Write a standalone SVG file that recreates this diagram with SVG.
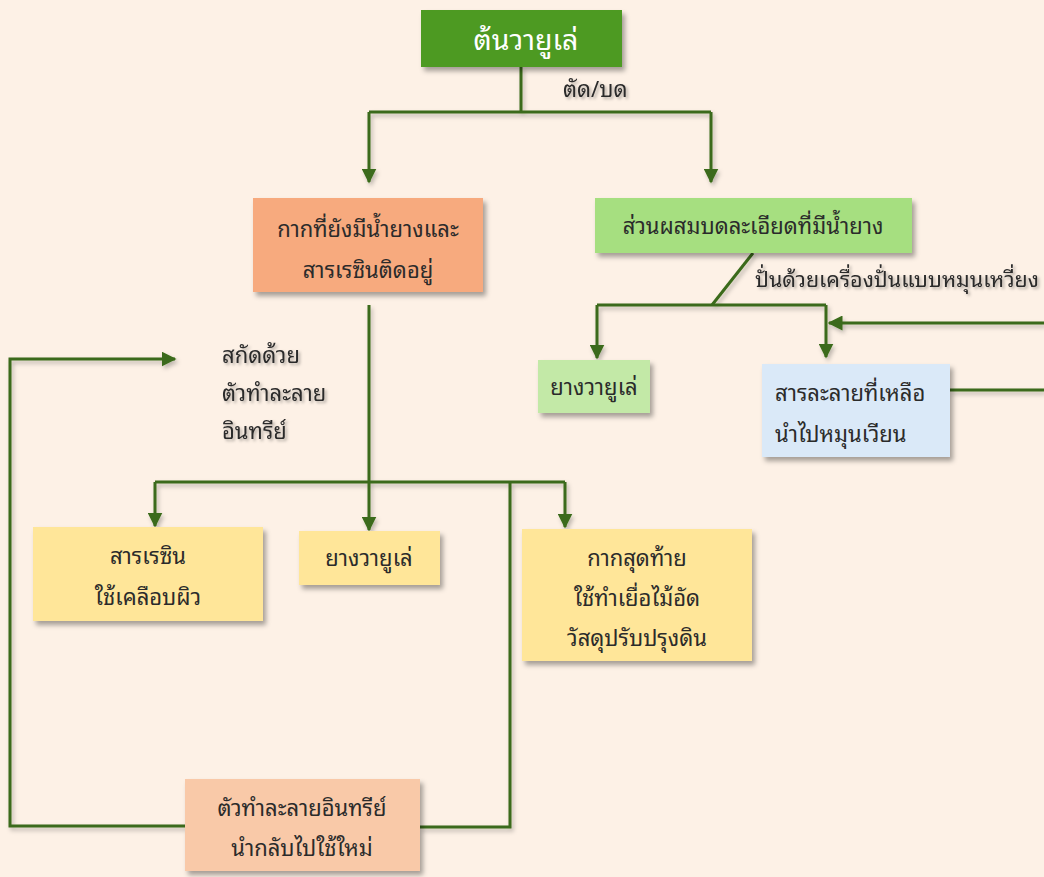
<svg xmlns="http://www.w3.org/2000/svg" width="1044" height="877" viewBox="0 0 1044 877">
<defs>
<filter id="sh" x="-10%" y="-10%" width="130%" height="140%">
<feDropShadow dx="3" dy="4" stdDeviation="2.5" flood-color="#000" flood-opacity="0.35"/>
</filter>
<filter id="lsh" x="-5%" y="-5%" width="110%" height="110%">
<feDropShadow dx="2" dy="3" stdDeviation="2" flood-color="#000" flood-opacity="0.25"/>
</filter>
<filter id="tsh" x="-5%" y="-10%" width="110%" height="130%">
<feDropShadow dx="2" dy="2" stdDeviation="1.5" flood-color="#000" flood-opacity="0.3"/>
</filter>
<marker id="ah" viewBox="0 0 10 10" refX="9" refY="5" markerWidth="5" markerHeight="5" orient="auto" markerUnits="strokeWidth">
<path d="M0,0 L10,5 L0,10 z" fill="#3A6B1A"/>
</marker>
</defs>
<style>
text{font-family:"Noto Sans Thai Looped","Noto Looped Thai","Loma","Garuda","Waree","Noto Sans Thai","Noto Sans",sans-serif;font-size:22px;fill:#2B2B2B}
.c{text-anchor:middle}
.box{filter:url(#sh)}
.ln{fill:none;stroke:#3A6B1A;stroke-width:3}
.lbl{filter:url(#tsh)}
</style>
<rect width="1044" height="877" fill="#FDF1E6"/>
<g id="connectors" filter="url(#lsh)">
<path class="ln" d="M521,67 V112"/>
<path class="ln" d="M369,112 H711"/>
<path class="ln" d="M369,112 V182" marker-end="url(#ah)"/>
<path class="ln" d="M711,112 V182" marker-end="url(#ah)"/>
<path class="ln" d="M753,253 L712,305"/>
<path class="ln" d="M597,305 H826"/>
<path class="ln" d="M597,305 V358" marker-end="url(#ah)"/>
<path class="ln" d="M826,305 V357" marker-end="url(#ah)"/>
<path class="ln" d="M1044,323 H829" marker-end="url(#ah)"/>
<path class="ln" d="M950,390 H1044"/>
<path class="ln" d="M369,305 V530" marker-end="url(#ah)"/>
<path class="ln" d="M155,482 H565"/>
<path class="ln" d="M155,482 V526" marker-end="url(#ah)"/>
<path class="ln" d="M565,482 V527" marker-end="url(#ah)"/>
<path class="ln" d="M510,482 V827 H420"/>
<path class="ln" d="M185,826 H10 V359 H175" marker-end="url(#ah)"/>
</g>
<g id="labels" class="lbl">
<text x="563" y="97">ตัด/บด</text>
<text x="755" y="287" style="font-size:21.5px">ปั่นด้วยเครื่องปั่นแบบหมุนเหวี่ยง</text>
<text x="222" y="363">สกัดด้วย</text>
<text x="222" y="401">ตัวทำละลาย</text>
<text x="222" y="439">อินทรีย์</text>
</g>
<g id="n-tree">
<rect class="box" x="421" y="10" width="201" height="57" fill="#4E9A24"/>
<text class="c" x="526" y="50" style="fill:#fff;font-size:28.5px">ต้นวายูเล่</text>
</g>
<g id="n-residue">
<rect class="box" x="253" y="198" width="230" height="94" fill="#F7AA7E"/>
<text class="c" x="368" y="237">กากที่ยังมีน้ำยางและ</text>
<text class="c" x="368" y="278">สารเรซินติดอยู่</text>
</g>
<g id="n-mix">
<rect class="box" x="595" y="198" width="317" height="55" fill="#A6DF80"/>
<text class="c" x="753" y="234">ส่วนผสมบดละเอียดที่มีน้ำยาง</text>
</g>
<g id="n-rubber1">
<rect class="box" x="538" y="360" width="112" height="53" fill="#C3E9A7"/>
<text class="c" x="594" y="395">ยางวายูเล่</text>
</g>
<g id="n-solvent">
<rect class="box" x="762" y="364" width="188" height="93" fill="#DAE9F8"/>
<text x="775" y="401">สารละลายที่เหลือ</text>
<text x="775" y="442">นำไปหมุนเวียน</text>
</g>
<g id="n-resin">
<rect class="box" x="33" y="527" width="230" height="94" fill="#FFE699"/>
<text class="c" x="148" y="564">สารเรซิน</text>
<text class="c" x="148" y="605">ใช้เคลือบผิว</text>
</g>
<g id="n-rubber2">
<rect class="box" x="299" y="531" width="141" height="54" fill="#FFE699"/>
<text class="c" x="369" y="566">ยางวายูเล่</text>
</g>
<g id="n-final">
<rect class="box" x="522" y="529" width="230" height="132" fill="#FFE699"/>
<text class="c" x="637" y="566">กากสุดท้าย</text>
<text class="c" x="637" y="606">ใช้ทำเยื่อไม้อัด</text>
<text class="c" x="637" y="646">วัสดุปรับปรุงดิน</text>
</g>
<g id="n-recycle">
<rect class="box" x="185" y="779" width="235" height="92" fill="#F9C9A8"/>
<text class="c" x="302" y="816">ตัวทำละลายอินทรีย์</text>
<text class="c" x="302" y="856">นำกลับไปใช้ใหม่</text>
</g>
</svg>
